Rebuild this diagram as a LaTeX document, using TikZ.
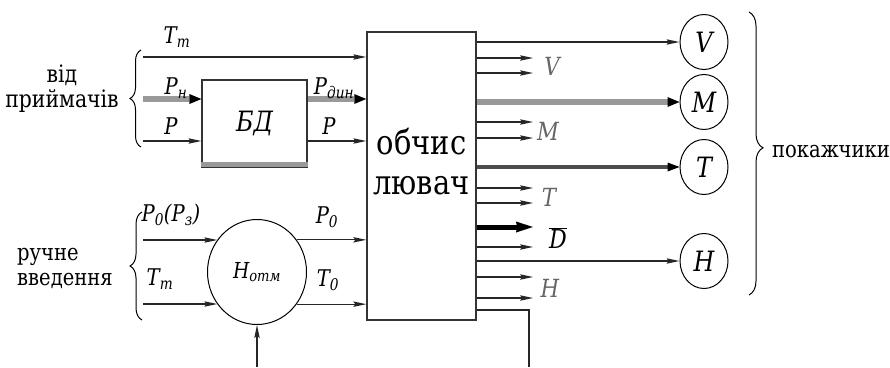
\documentclass[tikz,border=0pt]{standalone}
\usepackage{fontspec}
\setmainfont{DejaVu Serif}[FakeStretch=0.85]
\usetikzlibrary{arrows.meta,positioning,shapes.geometric,decorations.pathreplacing,calc}
\tikzset{>=Stealth}
\newcommand{\sig}[2]{#1\textsubscript{#2}}

\begin{document}
\begin{tikzpicture}[x=1pt, y=-1pt,
    wire/.style={line width=1.2pt, draw=black!85},
    arr/.style={wire, -{Stealth[length=13pt, width=5.5pt, inset=2pt, line width=0pt]}},
    bus/.style={line width=6pt, draw=black!40, -{Stealth[black, length=12pt, width=10pt, inset=0pt, line width=0pt]}},
    dbus/.style={line width=4.5pt, draw=black!70, -{Stealth[black, length=12pt, width=9pt, inset=0pt, line width=0pt]}},
    fat/.style={line width=5pt, draw=black, -{Stealth[length=17pt, width=11pt, inset=1pt, line width=0pt]}},
    block/.style={draw=black!80, line width=1.5pt, inner sep=0pt},
    ind/.style={draw, ellipse, line width=1pt, minimum width=48pt, minimum height=55pt, inner sep=0pt, font=\fontsize{28}{30}\selectfont\itshape},
    lab/.style={font=\fontsize{23}{25}\selectfont\itshape, inner sep=0pt},
    olab/.style={font=\fontsize{25}{27}\selectfont\itshape, text=black!60, inner sep=0pt},
    txt/.style={font=\fontsize{23}{25}\selectfont, align=center, inner sep=0pt},
    brc/.style={decorate, decoration={brace, amplitude=#1}, line width=1pt}
  ]
    \useasboundingbox (0,0) rectangle (890,367);

    % blocks
    \node[block, minimum width=109pt, minimum height=288pt] (comp) at (421.5,176) {};
    \node[txt, font=\fontsize{34}{40}\selectfont] (compTxt) at (421.5,162) {обчис\\лювач};
    \node[block, line width=1.2pt, minimum width=105pt, minimum height=87pt,
          font=\fontsize{28}{30}\selectfont\itshape] (bd) at (254.5,123.5) {БД};
    \draw[line width=5pt, black!40] ([yshift=3pt]bd.south west) -- ([yshift=3pt]bd.south east);
    \node[draw, ellipse, line width=1pt, minimum width=99pt, minimum height=105pt,
          font=\fontsize{22}{24}\selectfont\itshape] (hotm) at (257,272) {\sig{H}{отм}};

    % indicators
    \node[ind] (iV) at (704,42) {V};
    \node[ind, below=4pt of iV] (iM) {M};
    \node[ind, below=9pt of iM] (iT) {T};
    \node[ind] (iH) at (704,261) {H};

    % inputs
    \coordinate (inTm) at (143,57);
    \coordinate (inPn) at (143,99);
    \coordinate (inP)  at (143,141);
    \coordinate (inP0) at (143,240);
    \coordinate (inT)  at (143,304);
    \coordinate (inH)  at (257,367);

    \draw[arr] (inTm) -- (inTm -| comp.west);
    \draw[bus] (inPn) -- (inPn -| bd.west);
    \draw[arr] (inP) -- (inP -| bd.west);
    \draw[bus] (inPn -| bd.east) -- (inPn -| comp.west);
    \draw[arr] (inP -| bd.east) -- (inP -| comp.west);
    \draw[arr] (inP0) -- (inP0 -| hotm.141);
    \draw[arr] (inT) -- (inT -| hotm.219);
    \draw[arr] (hotm.39) -- (hotm.39 -| comp.west);
    \draw[arr] (hotm.-39) -- (hotm.-39 -| comp.west);
    \draw[arr] (inH) -- (hotm.south);

    \node[lab] (lTm)  at (177,37)  {\sig{T}{т}};
    \node[lab] (lPn)  at (176,88)  {\sig{P}{н}};
    \node[lab] (lP)   at (171,126) {P};
    \node[lab] (lPd)  at (334,88)  {\sig{P}{дин}};
    \node[lab] (lP2)  at (329,126) {P};
    \node[lab] (lP0)  at (171,215) {\sig{P}{0}(\sig{P}{з})};
    \node[lab] (lT)   at (160,279) {\sig{T}{т}};
    \node[lab] (lP02) at (327,217) {\sig{P}{0}};
    \node[lab] (lT0)  at (328,280) {\sig{T}{0}};

    % outputs
    \foreach \y [count=\i] in {58,73,122,138,188,203,247,277,298}
      \coordinate (o\i) at (533,\y);
    \foreach \i in {1,...,9}
      \draw[arr] (o\i -| comp.east) -- (o\i);
    \coordinate (oD) at (533,227);
    \draw[fat] (oD -| comp.east) -- (oD);

    \draw[arr] (iV -| comp.east) -- (iV.west);
    \draw[bus] (iM -| comp.east) -- (iM.west);
    \draw[dbus] (iT -| comp.east) -- (iT.west);
    \draw[arr] (iH -| comp.east) -- (iH.west);

    \coordinate (oBend) at (529,310);
    \coordinate (oOut) at (529,367);
    \draw[wire] (oBend -| comp.east) -- (oBend) -- (oOut);

    \node[olab] (lV) at (552,66)  {V};
    \node[olab] (lM) at (548,131) {M};
    \node[olab] (lT2) at (549,197) {T};
    \node[lab, font=\fontsize{26}{28}\selectfont\itshape] (lD) at (558,238) {$\overline{\mbox{\itshape D}}$};
    \node[olab] (lH) at (550,288) {H};

    % braces and texts
    \draw[brc=11pt] (141,147) -- (141,50);
    \draw[brc=12pt] (142,320) -- (142,212);
    \draw[brc=14pt, decoration={aspect=0.48}] (749,12) -- (749,295);

    \node[txt, font=\fontsize{24}{25}\selectfont] (src) at (62,89) {від\\приймачів};
    \node[txt, align=left, anchor=west] (man) at (17,268) {ручне\\введення};
    \node[txt] (disp) at (831,152) {покажчики};
  \end{tikzpicture}
\end{document}
